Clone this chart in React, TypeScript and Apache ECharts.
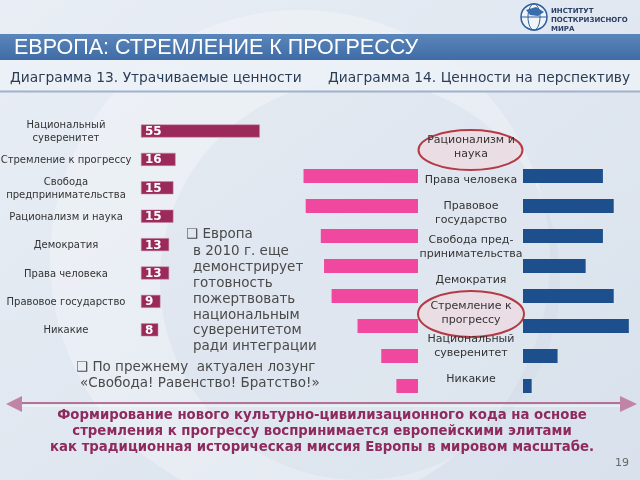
import React, { useEffect, useRef } from "react";
import * as echarts from "echarts";

// Diagram 13: lost values
const lostCategories = [
  "Национальный\nсуверенитет",
  "Стремление к прогрессу",
  "Свобода\nпредпринимательства",
  "Рационализм и наука",
  "Демократия",
  "Права человека",
  "Правовое государство",
  "Никакие",
];
const lostValues = [55, 16, 15, 15, 13, 13, 9, 8];

// Diagram 14: values for the future
const futureLabels = [
  "Рационализм и\nнаука",
  "Права человека",
  "Правовое\nгосударство",
  "Свобода пред-\nпринимательства",
  "Демократия",
  "Стремление к\nпрогрессу",
  "Национальный\nсуверенитет",
  "Никакие",
];
const futureBarRows = ["r1", "r2", "r3", "r4", "r5", "r6", "r7", "r8"];
const pinkValues = [53, 52, 45, 43.5, 40, 28, 17, 10];
const blueValues = [37, 42, 37, 29, 42, 49, 16, 4];

const bullet1 = "❑ Европа";
const bullet1Rest = "в 2010 г. еще\nдемонстрирует\nготовность\nпожертвовать\nнациональным\nсуверенитетом\nради интеграции";
const bullet2 = "❑ По прежнему  актуален лозунг";
const bullet2Rest = "«Свобода! Равенство! Братство!»";
const conclusionLines = [
  "Формирование нового культурно-цивилизационного кода на основе",
  "стремления к прогрессу воспринимается европейскими элитами",
  "как традиционная историческая миссия Европы в мировом масштабе.",
];

const SCALE = 2.16; // px per unit
const MAXV = 60;
const W = SCALE * MAXV;

export default function App() {
  const ref = useRef<HTMLDivElement>(null);
  useEffect(() => {
    const chart = echarts.init(ref.current!, null, { renderer: "svg" });
    const sans = "DejaVu Sans";
    const hidden = { show: false };
    chart.setOption({
      animation: false,
      graphic: [
        {
          type: "rect",
          z: -100,
          shape: { x: 0, y: 0, width: 640, height: 480 },
          style: {
            fill: new echarts.graphic.LinearGradient(0, 0, 1, 1, [
              { offset: 0, color: "#e9eef5" },
              { offset: 1, color: "#d8e1ec" },
            ]),
          },
        },
        {
          type: "circle",
          z: -99,
          shape: { cx: 300, cy: 260, r: 250 },
          style: { fill: "rgba(255,255,255,0.28)" },
        },
        {
          type: "circle",
          z: -98,
          shape: { cx: 360, cy: 280, r: 200 },
          style: { fill: "rgba(200,212,226,0.25)" },
        },
        // title bar
        {
          type: "rect",
          z: -50,
          shape: { x: 0, y: 34, width: 640, height: 26 },
          style: {
            fill: new echarts.graphic.LinearGradient(0, 0, 0, 1, [
              { offset: 0, color: "#5a86bb" },
              { offset: 1, color: "#3f6ca6" },
            ]),
          },
        },
        {
          type: "rect",
          z: -50,
          shape: { x: 0, y: 60, width: 640, height: 31 },
          style: { fill: "rgba(236,241,247,0.9)" },
        },
        {
          type: "line",
          z: -49,
          shape: { x1: 0, y1: 91.5, x2: 640, y2: 91.5 },
          style: { stroke: "#9fb2c9", lineWidth: 2 },
        },
        {
          type: "text",
          x: 14,
          y: 47,
          style: {
            text: "ЕВРОПА: СТРЕМЛЕНИЕ К ПРОГРЕССУ",
            fill: "#ffffff",
            font: "21.5px 'Liberation Sans'",
            verticalAlign: "middle",
          },
        },
        {
          type: "text",
          x: 10,
          y: 77,
          style: {
            text: "Диаграмма 13. Утрачиваемые ценности",
            fill: "#2b3d55",
            font: `13.8px '${sans}'`,
            verticalAlign: "middle",
          },
        },
        {
          type: "text",
          x: 328,
          y: 77,
          style: {
            text: "Диаграмма 14. Ценности на перспективу",
            fill: "#2b3d55",
            font: `13.8px '${sans}'`,
            verticalAlign: "middle",
          },
        },
        // logo
        {
          type: "circle",
          shape: { cx: 534, cy: 17, r: 13 },
          style: { fill: "rgba(255,255,255,0.5)", stroke: "#2f5f9c", lineWidth: 1.5 },
        },
        {
          type: "ellipse",
          shape: { cx: 534, cy: 17, rx: 6, ry: 13 },
          style: { fill: "none", stroke: "#2f5f9c", lineWidth: 1 },
        },
        {
          type: "line",
          shape: { x1: 521, y1: 17, x2: 547, y2: 17 },
          style: { stroke: "#2f5f9c", lineWidth: 1 },
        },
        {
          type: "polygon",
          shape: { points: [[526, 10], [536, 7], [544, 12], [538, 16], [530, 15]] },
          style: { fill: "#3a6cab" },
        },
        {
          type: "text",
          x: 551,
          y: 6,
          style: {
            text: "ИНСТИТУТ\nПОСТКРИЗИСНОГО\nМИРА",
            fill: "#2a3f66",
            font: `bold 7px '${sans}'`,
            lineHeight: 9,
          },
        },
        // ellipses highlighting
        {
          type: "ellipse",
          shape: { cx: 470.5, cy: 150, rx: 52, ry: 20 },
          style: { fill: "rgba(236,218,226,0.85)", stroke: "#b53a45", lineWidth: 2 },
        },
        {
          type: "ellipse",
          shape: { cx: 471, cy: 314, rx: 53, ry: 23 },
          style: { fill: "rgba(236,218,226,0.85)", stroke: "#b53a45", lineWidth: 2 },
        },
        // bullet texts
        {
          type: "text",
          x: 186,
          y: 226,
          style: { text: bullet1, fill: "#4a4a4a", font: `13.5px '${sans}'` },
        },
        {
          type: "text",
          x: 193,
          y: 242,
          style: { text: bullet1Rest, fill: "#4a4a4a", font: `13.5px '${sans}'`, lineHeight: 15.9 },
        },
        {
          type: "text",
          x: 76,
          y: 359,
          style: { text: bullet2, fill: "#4a4a4a", font: `13.5px '${sans}'` },
        },
        {
          type: "text",
          x: 80,
          y: 375,
          style: { text: bullet2Rest, fill: "#4a4a4a", font: `13.5px '${sans}'` },
        },
        // divider with arrows
        {
          type: "line",
          shape: { x1: 18, y1: 403, x2: 624, y2: 403 },
          style: { stroke: "#b27396", lineWidth: 2 },
        },
        {
          type: "line",
          shape: { x1: 18, y1: 406, x2: 624, y2: 406 },
          style: { stroke: "rgba(255,255,255,0.8)", lineWidth: 1 },
        },
        {
          type: "polygon",
          shape: { points: [[6, 404], [22, 396], [22, 412]] },
          style: { fill: "#c184a7" },
        },
        {
          type: "polygon",
          shape: { points: [[637, 404], [620, 396], [620, 412]] },
          style: { fill: "#c184a7" },
        },
        ...conclusionLines.map((t, i) => ({
          type: "text",
          x: 322,
          y: 414 + i * 16,
          style: {
            text: t,
            fill: "#8e2a5d",
            font: `bold 13.3px '${sans}'`,
            align: "center",
            verticalAlign: "middle",
          },
        })),
        {
          type: "text",
          x: 622,
          y: 462,
          style: { text: "19", fill: "#666", font: `11px '${sans}'`, align: "center", verticalAlign: "middle" },
        },
      ],
      grid: [
        { left: 141, top: 116.8, height: 227.2, width: W, outerBoundsMode: "none" },
        { left: 418 - W, top: 161, height: 240, width: W, outerBoundsMode: "none" },
        { left: 523, top: 161, height: 240, width: W, outerBoundsMode: "none" },
        { left: 471, top: 129.9, height: 265.6, width: 1, outerBoundsMode: "none" },
      ],
      xAxis: [
        { gridIndex: 0, type: "value", min: 0, max: MAXV, show: false },
        { gridIndex: 1, type: "value", min: 0, max: MAXV, inverse: true, show: false },
        { gridIndex: 2, type: "value", min: 0, max: MAXV, show: false },
        { gridIndex: 3, type: "value", min: 0, max: 1, show: false },
      ],
      yAxis: [
        {
          gridIndex: 0,
          type: "category",
          inverse: true,
          data: lostCategories,
          axisLine: hidden,
          axisTick: hidden,
          axisLabel: {
            align: "center",
            margin: 75,
            fontSize: 10,
            lineHeight: 13,
            color: "#333",
            fontFamily: sans,
          },
        },
        { gridIndex: 1, type: "category", inverse: true, data: futureBarRows, show: false },
        { gridIndex: 2, type: "category", inverse: true, data: futureBarRows, show: false },
        {
          gridIndex: 3,
          type: "category",
          inverse: true,
          data: futureLabels,
          z: 50,
          axisLine: hidden,
          axisTick: hidden,
          axisLabel: {
            align: "center",
            margin: 0,
            fontSize: 11,
            lineHeight: 14,
            color: "#333",
            fontFamily: sans,
          },
        },
      ],
      series: [
        {
          type: "bar",
          xAxisIndex: 0,
          yAxisIndex: 0,
          data: lostValues,
          barWidth: 13,
          itemStyle: { color: "#9b2a5a", borderColor: "#c58aa6", borderWidth: 0.5 },
          label: {
            show: true,
            position: "insideLeft",
            distance: 4,
            color: "#fff",
            fontWeight: "bold",
            fontSize: 12,
            fontFamily: sans,
          },
        },
        {
          type: "bar",
          xAxisIndex: 1,
          yAxisIndex: 1,
          data: pinkValues,
          barWidth: 14,
          itemStyle: { color: "#f0479f" },
        },
        {
          type: "bar",
          xAxisIndex: 2,
          yAxisIndex: 2,
          data: blueValues,
          barWidth: 14,
          itemStyle: { color: "#1d4f8d" },
        },
      ],
    });
    return () => chart.dispose();
  }, []);
  return (
    <div
      ref={ref}
      style={{ position: "fixed", left: 0, top: 0, width: 640, height: 480 }}
    />
  );
}
